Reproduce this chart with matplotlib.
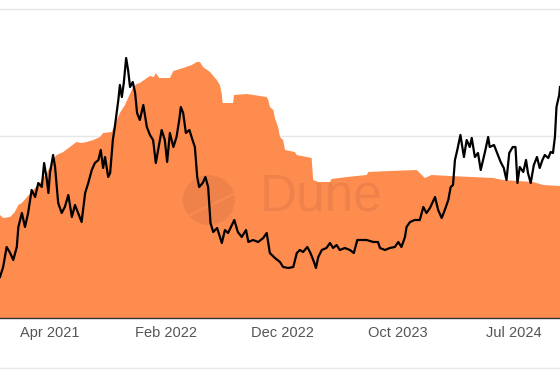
import numpy as np
import matplotlib
matplotlib.use("Agg")
from matplotlib import pyplot as plt
from matplotlib.patches import Ellipse
from matplotlib.lines import Line2D

plt.rcParams['font.family'] = ['Liberation Sans', 'DejaVu Sans']

# data (days counted from start date, values in chart units)
start = np.datetime64('2020-12-18')

line_days = [0, 8, 17, 26, 34, 43, 47, 56, 64, 72, 81, 90, 98, 107, 113, 120, 124, 128, 136, 141,
             149, 158, 166, 175, 184, 192, 200, 209, 218, 226, 235, 243, 252, 258, 264, 269, 277, 282, 289, 294,
             303, 307, 312, 317, 323, 328, 333, 340, 346, 351, 358, 367, 376, 384, 392, 399, 405, 414, 422, 428,
             435, 444, 452, 459, 463, 469, 476, 485, 493, 499, 505, 510, 519, 526, 533, 539, 546, 556, 568, 576,
             584, 600, 609, 619, 630, 636, 648, 661, 674, 683, 691, 704, 717, 725, 738, 751, 760, 768, 776, 787,
             795, 804, 809, 815, 824, 836, 845, 853, 862, 870, 883, 896, 906, 915, 926, 939, 956, 968, 973, 986,
             998, 1011, 1020, 1028, 1037, 1041, 1050, 1062, 1075, 1084, 1092, 1101, 1114, 1122, 1131, 1139, 1148, 1154, 1160, 1165,
             1171, 1179, 1188, 1195, 1203, 1208, 1216, 1224, 1231, 1237, 1243, 1250, 1254, 1265, 1273, 1282, 1290, 1297, 1304, 1313,
             1320, 1325, 1331, 1340, 1347, 1352, 1359, 1367, 1375, 1382, 1389, 1395, 1404, 1410, 1416, 1421, 1425, 1432, 1434]
line_vals = [41, 51, 71, 65, 58, 71, 91, 105, 91, 105, 128, 121, 135, 131, 155, 138, 125, 145, 163, 151,
             115, 105, 111, 123, 101, 113, 105, 96, 125, 135, 148, 155, 158, 168, 150, 161, 141, 145, 178, 191,
             218, 233, 221, 235, 260, 248, 231, 236, 225, 205, 198, 213, 191, 183, 178, 155, 168, 188, 178, 156,
             185, 171, 181, 198, 211, 205, 185, 188, 178, 171, 141, 131, 135, 141, 131, 95, 86, 90, 75, 88,
             85, 98, 86, 81, 88, 76, 78, 76, 80, 85, 65, 60, 56, 51, 50, 51, 65, 68, 66, 71,
             65, 56, 50, 61, 68, 70, 75, 70, 73, 68, 70, 68, 65, 78, 78, 78, 76, 76, 70, 68,
             70, 71, 76, 71, 81, 91, 96, 98, 98, 111, 105, 110, 121, 108, 100, 108, 118, 131, 133, 158,
             168, 183, 161, 178, 171, 180, 161, 165, 148, 158, 168, 181, 171, 173, 165, 156, 150, 138, 165, 171,
             171, 135, 151, 146, 158, 145, 135, 153, 161, 150, 158, 163, 160, 166, 165, 181, 211, 223, 231]

area_days = [0, 8, 26, 38, 47, 56, 85, 102, 120, 136, 145, 162, 179, 196, 209, 222, 239, 256, 264, 286,
             294, 307, 320, 328, 341, 350, 358, 380, 384, 394, 399, 408, 435, 444, 469, 491, 504, 512, 520, 538,
             555, 563, 568, 570, 597, 599, 632, 683, 687, 691, 700, 704, 712, 717, 725, 730, 755, 760, 798, 802,
             815, 845, 849, 888, 939, 943, 998, 1067, 1075, 1088, 1105, 1152, 1263, 1288, 1365, 1391, 1434]
area_vals = [103, 100, 101, 106, 113, 115, 128, 135, 145, 158, 163, 166, 171, 176, 175, 176, 178, 181, 185, 186,
             193, 205, 213, 220, 231, 234, 235, 241, 242, 241, 245, 240, 240, 247, 250, 253, 256, 256, 251, 246,
             238, 233, 224, 215, 215, 223, 224, 221, 218, 211, 208, 200, 191, 181, 178, 168, 166, 163, 160, 138,
             136, 136, 139, 141, 143, 146, 147, 148, 145, 140, 143, 142, 140, 138, 136, 133, 132]

tick_dates = ['2021-04-25', '2022-02-16', '2022-12-10', '2023-10-03', '2024-07-26']
tick_labels = ['Apr 2021', 'Feb 2022', 'Dec 2022', 'Oct 2023', 'Jul 2024']
grid_vals = [55, 182, 309]

line_x = start + np.array(line_days).astype('timedelta64[D]')
area_x = start + np.array(area_days).astype('timedelta64[D]')

orange = '#FF8C4F'
fig = plt.figure(figsize=(5.6, 3.78), dpi=100)
ax = fig.add_axes([0, 60 / 378, 1, 318 / 378])

ax.fill_between(area_x, 0, area_vals, color=orange, lw=0, zorder=2)
ax.plot(line_x, line_vals, color='black', lw=1.6, zorder=4)

# watermark (logo + word)
wm = '#8a4a30'
ax.add_patch(Ellipse((0.373, 0.371), 52 / 560, 50 / 318, transform=ax.transAxes,
                     color=wm, alpha=0.14, lw=0, zorder=3))
ax.plot([188 / 560, 234 / 560], [(318 - 216) / 318, (318 - 194) / 318], transform=ax.transAxes,
        color=orange, lw=2, alpha=0.7, solid_capstyle='butt', zorder=3)
ax.text(0.574, 0.38, 'Dune', transform=ax.transAxes, fontsize=37, color=wm,
        alpha=0.14, ha='center', va='center', zorder=3)

ax.set_xlim(start, start + np.timedelta64(1434, 'D'))
ax.set_ylim(0, 318)
ax.set_xticks(np.array(tick_dates, dtype='datetime64[D]'))
ax.set_xticklabels(tick_labels)
ax.set_yticks(grid_vals)
ax.tick_params(axis='x', length=0, pad=6, labelsize=10.5, labelcolor='#555555')
ax.tick_params(axis='y', length=0, labelleft=False)
ax.grid(axis='y', color='#e6e6e6', lw=1, zorder=0)
ax.set_axisbelow(True)
for s in ['top', 'left', 'right']:
    ax.spines[s].set_visible(False)
ax.spines['bottom'].set_color('#333333')
ax.spines['bottom'].set_linewidth(1)

fig.add_artist(Line2D([0, 1], [10 / 378, 10 / 378], color='#e8e8e8', lw=1))

fig.savefig('out.png', dpi=100)
